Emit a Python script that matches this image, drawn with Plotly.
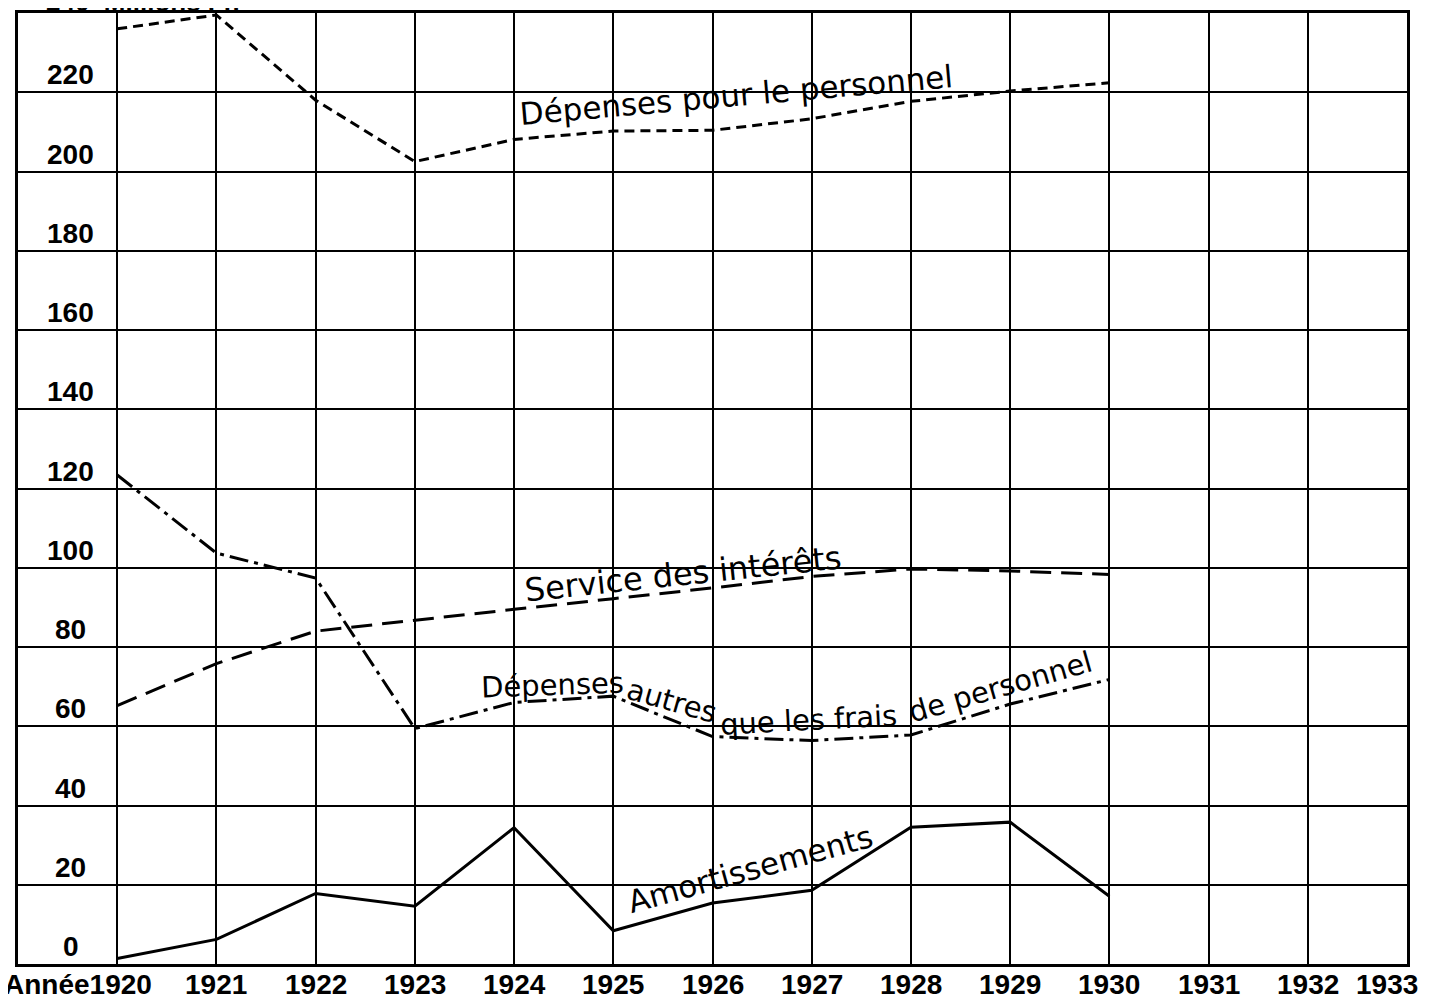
import plotly.graph_objects as go

years = [1920, 1921, 1922, 1923, 1924, 1925, 1926, 1927, 1928, 1929, 1930]
personnel = [236.0, 239.5, 218.0, 202.5, 208.1, 210.2, 210.4, 213.3, 217.7, 220.3, 222.4]
interets = [65.2, 75.8, 84.0, 86.8, 89.5, 92.2, 94.9, 97.8, 99.7, 99.2, 98.3]
autres = [123.4, 103.7, 97.4, 59.4, 66.0, 67.6, 57.4, 56.4, 57.8, 65.6, 71.8]
amortissements = [1.4, 6.2, 17.8, 14.6, 34.4, 8.4, 15.4, 18.6, 34.5, 35.8, 17.1]

x_label_years = [1920, 1921, 1922, 1923, 1924, 1925, 1926, 1927, 1928, 1929, 1930, 1931, 1932, 1933]
x_label_texts = ["Année1920", "1921", "1922", "1923", "1924", "1925", "1926",
                 "1927", "1928", "1929", "1930", "1931", "1932", "1933"]
y_label_values = [0, 20, 40, 60, 80, 100, 120, 140, 160, 180, 200, 220]
y_label_texts = ["0", "20", "40", "60", "80", "100", "120", "140", "160", "180", "200", "220"]
unit_title = "240  Millions Fr."

series_names = ["Dépenses pour le personnel", "Service des intérêts",
                "Dépenses autres que les frais de personnel", "Amortissements"]

fig = go.Figure()
line_specs = [
    (personnel, "10px,6px"),
    (interets, "21px,10px"),
    (autres, "19px,6px,4px,6px"),
    (amortissements, "solid"),
]
for (vals, dash), name in zip(line_specs, series_names):
    fig.add_trace(go.Scatter(x=years, y=vals, mode="lines", name=name,
                             line=dict(color="black", width=3, dash=dash),
                             showlegend=False, hoverinfo="skip"))

family = "DejaVu Sans, Noto Sans, sans-serif"
curve_labels = [
    ("Dépenses pour le personnel", 1926.24, 219.2, -5, 31),
    ("Service des intérêts", 1925.7, 98.5, -6, 32),
    ("Dépenses", 1924.39, 70.5, -2, 29),
    ("autres", 1925.59, 66.3, 16, 29),
    ("que les frais", 1926.97, 61.5, -3, 29),
    ("de personnel", 1928.9, 69.8, -16, 29),
    ("Amortissements", 1926.38, 24.0, -15.5, 31),
]
annotations = []
for text, x, y, ang, size in curve_labels:
    annotations.append(dict(x=x, y=y, xref="x", yref="y", text=text, showarrow=False,
                            textangle=ang, font=dict(family=family, size=size, color="black"),
                            xanchor="center", yanchor="middle"))

num_font = dict(family="Liberation Sans, Arial, sans-serif", size=28, color="black")
for v, t in zip(y_label_values, y_label_texts):
    annotations.append(dict(x=1919.53, y=v, xref="x", yref="y", text="<b>%s</b>" % t,
                            showarrow=False, font=num_font, xanchor="center", yanchor="bottom"))

annotations.append(dict(x=1919.26, y=1, xref="x", yref="paper", text="<b>%s</b>" % unit_title,
                        showarrow=False, font=dict(family="Liberation Sans, Arial, sans-serif", size=26,
                                                   color="black"),
                        xanchor="left", yanchor="bottom", yshift=-6))

year_font = dict(family="Liberation Sans Narrow, Liberation Sans, Arial, sans-serif", size=28, color="black")
for yr, t in zip(x_label_years, x_label_texts):
    if yr == x_label_years[0]:
        anchor, shift = "right", 37
    elif yr == x_label_years[-1]:
        anchor, shift = "right", 13
    else:
        anchor, shift = "center", 0
    annotations.append(dict(x=yr, y=0, xref="x", yref="y", text="<b>%s</b>" % t, showarrow=False,
                            font=year_font, xanchor=anchor, xshift=shift, yanchor="top", yshift=-3))

fig.update_layout(
    width=1421, height=993,
    margin=dict(l=10, r=22, t=2, b=37),
    paper_bgcolor="white", plot_bgcolor="white",
    annotations=annotations,
    xaxis=dict(range=[1919, 1933], tick0=1919, dtick=1, showgrid=True, gridcolor="black",
               gridwidth=2, zeroline=False, showticklabels=False, ticks="",
               showline=True, linecolor="black", linewidth=3, mirror=True, fixedrange=True),
    yaxis=dict(range=[0, 240], tick0=0, dtick=20, showgrid=True, gridcolor="black",
               gridwidth=2, zeroline=False, showticklabels=False, ticks="",
               showline=True, linecolor="black", linewidth=3, mirror=True, fixedrange=True),
)

fig.write_html("out.html")
